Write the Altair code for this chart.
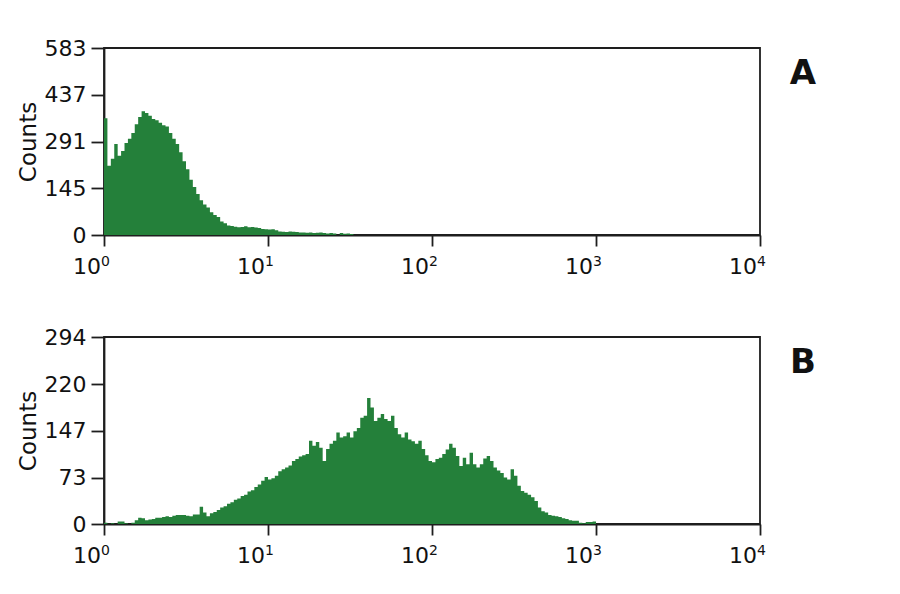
import altair as alt
import pandas as pd

# Histogram counts per channel (48 channels per decade, starting at 10^0)
A_COUNTS = [364, 216, 238, 284, 247, 262, 287, 300, 318, 345,
            368, 386, 380, 372, 362, 358, 350, 342, 338, 318,
            300, 284, 258, 230, 205, 172, 150, 128, 108, 95,
            86, 71, 62, 56, 42, 37, 30, 28, 26, 24,
            25, 27, 24, 25, 23, 22, 19, 18, 17, 18,
            15, 11, 10, 9, 11, 10, 9, 8, 8, 7,
            8, 6, 7, 8, 6, 5, 6, 5, 0, 6,
            4, 5, 3]
B_COUNTS = [2, 0, 1, 0, 4, 4, 1, 0, 2, 6,
            10, 9, 6, 7, 8, 10, 10, 11, 12, 11,
            13, 14, 14, 14, 13, 12, 15, 15, 27, 18,
            12, 17, 19, 22, 26, 28, 32, 34, 38, 40,
            44, 46, 51, 53, 58, 62, 68, 74, 70, 72,
            76, 83, 86, 89, 92, 99, 102, 106, 108, 110,
            131, 123, 129, 120, 99, 118, 126, 131, 144, 136,
            138, 144, 136, 146, 151, 167, 170, 198, 183, 162,
            167, 173, 165, 162, 170, 151, 141, 136, 144, 133,
            130, 126, 131, 118, 108, 99, 97, 102, 104, 110,
            117, 126, 120, 107, 91, 104, 94, 112, 94, 89,
            94, 103, 107, 99, 89, 84, 80, 73, 70, 86,
            76, 60, 52, 49, 46, 42, 36, 26, 20, 18,
            14, 13, 12, 11, 9, 8, 6, 5, 5, 2,
            1, 3, 3, 4, 0]
CHANNELS_PER_DECADE = 48

A_TICKS = [0, 145, 291, 437, 583]
B_TICKS = [0, 73, 147, 220, 294]
X_TICKS = [1, 10, 100, 1000, 10000]
X_BASE = ["10", "10", "10", "10", "10"]
X_EXPONENTS = ["0", "1", "2", "3", "4"]
PANEL_LETTERS = ["A", "B"]

GREEN = "#24803a"
INK = "#1e1e1e"
TEXT = "#111111"
FONT = "DejaVu Sans"
W, H = 656, 187

XSCALE = alt.Scale(type="log", domain=[1, 10000], nice=False)
tick_df = pd.DataFrame({"x": X_TICKS, "base": X_BASE, "exp": X_EXPONENTS})


def frame(counts):
    rows = []
    for i, c in enumerate(counts):
        rows.append({"x": 10 ** (i / CHANNELS_PER_DECADE), "count": c})
    rows.append({"x": 10 ** (len(counts) / CHANNELS_PER_DECADE), "count": 0})
    return pd.DataFrame(rows)


def panel(counts, yticks, letter):
    df = frame(counts)
    area = alt.Chart(df).mark_area(interpolate="step-after", color=GREEN).encode(
        x=alt.X(
            "x:Q",
            scale=XSCALE,
            axis=alt.Axis(values=X_TICKS, labels=False, title=None, grid=False,
                          tickSize=11),
        ),
        y=alt.Y(
            "count:Q",
            scale=alt.Scale(domain=[0, yticks[-1]], nice=False, zero=True),
            axis=alt.Axis(values=yticks, title="Counts", grid=False,
                          tickSize=13, labelPadding=5, labelFontSize=22,
                          titleFontSize=23, titleFontWeight="normal", titlePadding=4,
                          labelFlush=False, labelOverlap=False),
        ),
    )
    base_txt = alt.Chart(tick_df).mark_text(
        fontSize=22, font=FONT, color=TEXT, align="right", baseline="alphabetic", dx=-3,
    ).encode(x=alt.X("x:Q", scale=XSCALE, title=None), y=alt.value(H + 39), text="base:N")
    exp_txt = alt.Chart(tick_df).mark_text(
        fontSize=14, font=FONT, color=TEXT, align="left", baseline="alphabetic", dx=-3,
    ).encode(x=alt.X("x:Q", scale=XSCALE, title=None), y=alt.value(H + 31), text="exp:N")
    letter_txt = alt.Chart(pd.DataFrame({"t": [letter]})).mark_text(
        fontSize=34, fontWeight="bold", font=FONT, color=TEXT,
        align="center", baseline="middle",
    ).encode(x=alt.value(699), y=alt.value(26), text="t:N")
    return alt.layer(area, base_txt, exp_txt, letter_txt).properties(width=W, height=H)


chart = alt.vconcat(
    panel(A_COUNTS, A_TICKS, PANEL_LETTERS[0]),
    panel(B_COUNTS, B_TICKS, PANEL_LETTERS[1]),
    spacing=102,
    bounds="flush",
).properties(
    padding={"left": 8, "top": 28, "right": 0, "bottom": 0},
    background="white",
).configure_view(
    stroke=INK, strokeWidth=1.8
).configure_axis(
    domainColor=INK, domainWidth=1.8, tickColor=INK, tickWidth=1.8,
    labelColor=TEXT, titleColor=TEXT, labelFont=FONT, titleFont=FONT,
)

chart.save("out.html", embed_options={"renderer": "svg", "actions": False})
